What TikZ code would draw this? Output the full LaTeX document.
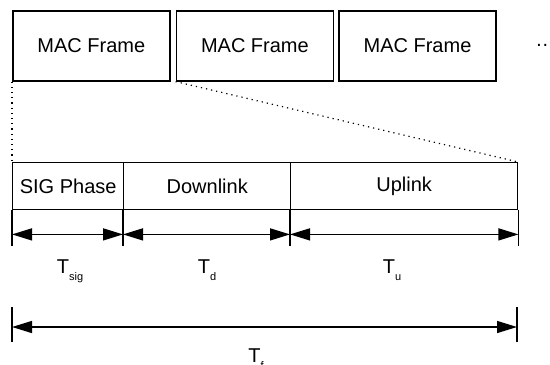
\documentclass[tikz,border=0pt]{standalone}
\usepackage{fontspec}
\setmainfont{Liberation Sans}
\usetikzlibrary{arrows.meta,positioning}

\newcommand{\tsub}[1]{\raisebox{-0.7ex}{\fontsize{5.5}{6}\selectfont #1}}

\begin{document}
\begin{tikzpicture}[x=0.5pt, y=-0.5pt,
		font=\fontsize{10}{12}\selectfont,
		frame/.style={draw, line width=0.8pt, minimum width=78.5pt, minimum height=35pt, inner sep=0pt},
		phase/.style={draw, line width=0.7pt, minimum height=23.5pt, inner sep=0pt},
		span/.style={arrows={Triangle[length=10pt, width=6pt]-Triangle[length=10pt, width=6pt]}, line width=0.7pt},
		endline/.style={line width=0.6pt},
		zoomline/.style={dotted, line width=0.6pt}
	]
		\useasboundingbox (0,0) rectangle (550,364);

		% MAC frames
		\node[frame, anchor=north west] (mac1) at (12,10) {MAC Frame};
		\node[frame, right=2.5pt of mac1] (mac2) {MAC Frame};
		\node[frame, right=2pt of mac2] (mac3) {MAC Frame};
		\node[anchor=base west, inner sep=0pt] (more) at (535,46) {\dots};

		% one frame
		\node[phase, minimum width=55.5pt, anchor=north west] (sig) at (12,162) {SIG Phase};
		\node[phase, minimum width=83.5pt, right=-0.7pt of sig] (down) {Downlink};
		\node[phase, minimum width=113.5pt, right=-0.7pt of down] (up) {Uplink};

		\draw[zoomline] (mac1.south west) -- (sig.north west);
		\draw[zoomline] (mac2.south west) -- (up.north east);

		% durations
		\foreach \p/\n in {sig.south west/s0, down.south west/s1, up.south west/s2, up.south east/s3} {
			\draw[endline] (\p) -- ++(0,36);
			\path (\p) ++(0,24) coordinate (\n);
		}
		\draw[span] (s0) -- (s1);
		\draw[span] (s1) -- (s2);
		\draw[span] (s2) -- (s3);

		\node[anchor=base] (tsig) at (70,273) {T\tsub{sig}};
		\node[anchor=base] (td) at (207,273) {T\tsub{d}};
		\node[anchor=base] (tu) at (392,273) {T\tsub{u}};

		% whole frame
		\coordinate (f0) at (12,327);
		\coordinate (f1) at (517,327);
		\draw[endline] (12,307) -- (12,342);
		\draw[endline] (517,307) -- (517,342);
		\draw[span] (f0) -- (f1);
		\node[anchor=base] (tf) at (256,362) {T\tsub{f}};
	\end{tikzpicture}
\end{document}
